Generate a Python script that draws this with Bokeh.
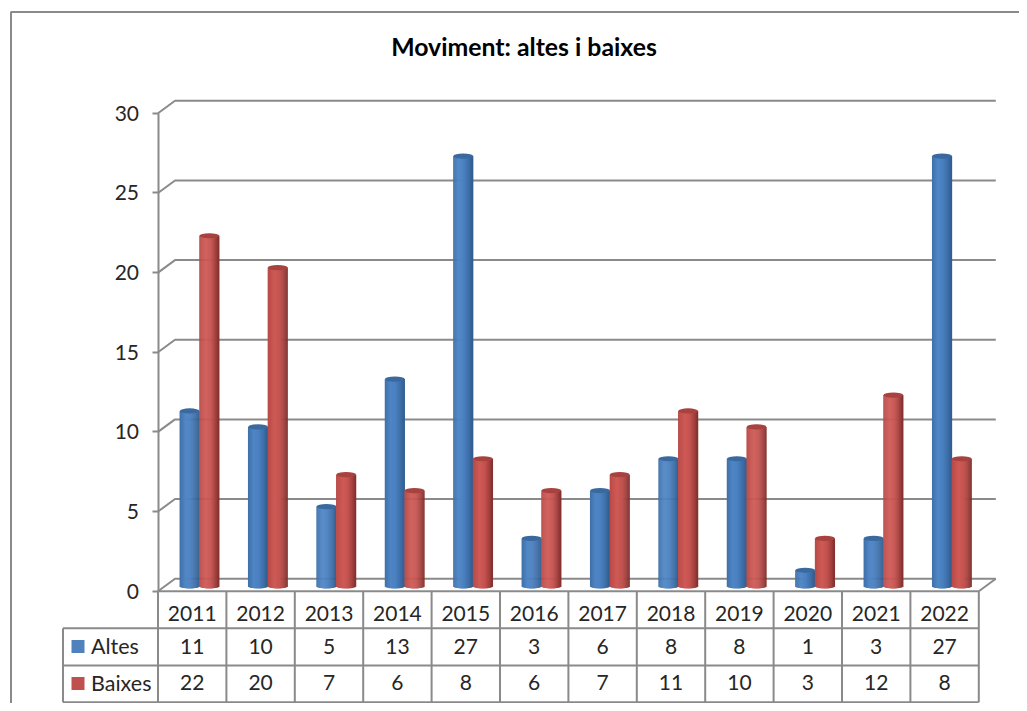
from bokeh.plotting import figure
from bokeh.embed import file_html
from bokeh.resources import INLINE
from bokeh.models import LinearAxis, FixedTicker, Range1d
from bokeh.core.properties import value
import math

YEARS = ["2011","2012","2013","2014","2015","2016","2017","2018","2019","2020","2021","2022"]
ALTES = [11,10,5,13,27,3,6,8,8,1,3,27]
BAIXES = [22,20,7,6,8,6,7,11,10,3,12,8]
Y_TICKS = [0,5,10,15,20,25,30]
TITLE = "Moviment: altes i baixes"

FONT = "Lato"
GRAY = "#8a8a8a"
TXT = "#262626"
W, H = 1019, 703
X0, XS = 157.5, 68.4
Y0, YS = 590.7, 15.93
def X(px): return (px - X0) / XS
def Y(py): return (Y0 - py) / YS
DX, DY = 17.0 / XS, 12.5 / YS

p = figure(width=W, height=H, output_backend="svg", toolbar_location=None,
           x_range=Range1d(X(0), X(W)), y_range=Range1d(Y(H), Y(0)),
           x_axis_location=None, y_axis_location=None,
           min_border=0, outline_line_color=None)
p.xgrid.visible = False
p.ygrid.visible = False

# outer chart border
p.line([X(10.5), X(10.5), X(W)], [Y(H), Y(11.5), Y(11.5)], line_color=GRAY, line_width=2)

# back-wall gridlines with their side diagonals
n = len(YEARS)
for t in Y_TICKS:
    p.line([0, DX, n + DX], [t, t + DY, t + DY], line_color=GRAY, line_width=2)
# floor
p.line([n, n + DX], [0, DY], line_color=GRAY, line_width=2)

# y axis
ax = LinearAxis(fixed_location=0, ticker=FixedTicker(ticks=Y_TICKS), bounds=(0, 30))
ax.axis_line_color = GRAY
ax.axis_line_width = 2
ax.major_tick_line_color = GRAY
ax.major_tick_line_width = 2
ax.major_tick_out = 6
ax.major_tick_in = 0
ax.minor_tick_line_color = None
ax.major_label_standoff = 13
ax.major_label_text_font = FONT
ax.major_label_text_font_size = "21px"
ax.major_label_text_color = TXT
p.add_layout(ax, "left")

def hexrgb(c): return [int(c[i:i+2], 16) for i in (1, 3, 5)]
def ramp(stops, t):
    for (a, ca), (b, cb) in zip(stops, stops[1:]):
        if t <= b:
            f = (t - a) / (b - a)
            ra, rb = hexrgb(ca), hexrgb(cb)
            return "#%02x%02x%02x" % tuple(round(x + (y - x) * f) for x, y in zip(ra, rb))
    return stops[-1][1]

BLUE = [(0, "#3f70a8"), (.3, "#4f86c6"), (.55, "#4a80bf"), (.85, "#3b6aa2"), (1, "#2f5a8c")]
RED = [(0, "#b84a47"), (.35, "#cf5a56"), (.6, "#c45350"), (.85, "#a03f3c"), (1, "#7f2e2c")]
BW = 19.7
SHIFT_X, SHIFT_Y = 7.3, 5.0
RY = 2.3

def cylinder(center_px_offset, vals, stops, cap):
    N = 20
    xs, bottoms, tops, cols = [], [], [], []
    for i, v in enumerate(vals):
        cx = (i + 0.5) + (SHIFT_X + center_px_offset) / XS
        for k in range(N):
            t = (k + 0.5) / N
            u = 2 * t - 1
            xs.append(cx + u * BW / 2 / XS)
            bottoms.append((SHIFT_Y - RY * math.sqrt(1 - u * u)) / YS)
            tops.append(v + SHIFT_Y / YS)
            cols.append(ramp(stops, t))
    p.vbar(x=xs, width=(BW / N + 0.5) / XS, bottom=bottoms, top=tops, fill_color=cols, line_color=None)
    p.ellipse(x=[(i + 0.5) + (SHIFT_X + center_px_offset) / XS for i in range(len(vals))],
              y=[v + SHIFT_Y / YS for v in vals],
              width=BW, height=2 * RY + 0.6, width_units="screen", height_units="screen",
              fill_color=cap, line_color=None)

cylinder(-BW / 2, ALTES, BLUE, "#3a699f")
cylinder(BW / 2, BAIXES, RED, "#a8423f")

# data table
R1, R2, R3, R4 = Y(590.7), Y(627.7), Y(665), Y(701.7)
for i in range(n + 1):
    p.line([i, i], [R1, R4], line_color=GRAY, line_width=2)
p.line([0, n], [R1, R1], line_color=GRAY, line_width=2)
LX = X(62.5)
for r in (R2, R3, R4):
    p.line([LX, n], [r, r], line_color=GRAY, line_width=2)
p.line([LX, LX], [R2, R4], line_color=GRAY, line_width=2)

cx = [i + 0.5 for i in range(n)]
ROW_Y = [Y(612.5), Y(645.5), Y(682)]
def row(labels, y):
    p.text(x=cx, y=[y] * n, text=[str(s) for s in labels],
           text_font=value(FONT), text_font_size="21px", text_color=TXT,
           text_align="center", text_baseline="middle")
row(YEARS, ROW_Y[0])
row(ALTES, ROW_Y[1])
row(BAIXES, ROW_Y[2])

# legend keys inside the table
p.scatter(x=[X(77.5)], y=[Y(646)], marker="square", size=13, fill_color="#4f81bd", line_color=None)
p.scatter(x=[X(77.5)], y=[Y(683)], marker="square", size=13, fill_color="#c0504d", line_color=None)
p.text(x=[X(90.5)] * 2, y=[ROW_Y[1], ROW_Y[2]], text=["Altes", "Baixes"],
       text_font=value(FONT), text_font_size="21.5px", text_color=TXT,
       text_align="left", text_baseline="middle")

# title
p.text(x=[X(523.5)], y=[Y(45.5)], text=[TITLE], text_font=value(FONT), text_font_size="24.8px",
       text_font_style="bold", text_color="#000000", text_align="center", text_baseline="middle")

open("out.html", "w").write(file_html(p, INLINE))
